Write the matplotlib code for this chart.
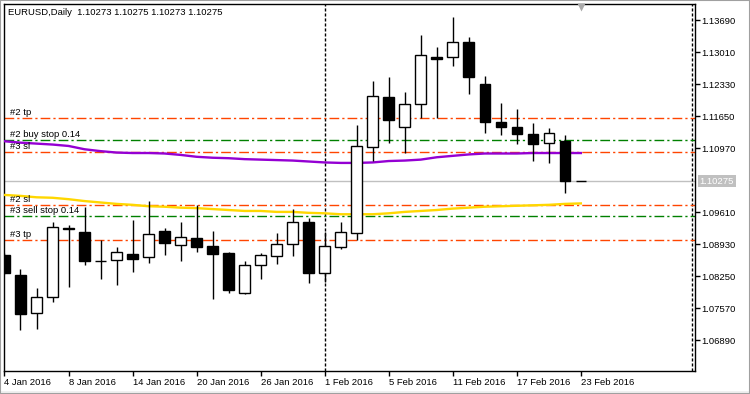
import matplotlib
matplotlib.use('Agg')
import matplotlib.pyplot as plt
import matplotlib.transforms as mtransforms
from matplotlib.patches import Rectangle

plt.rcParams['font.family'] = ['Liberation Sans', 'DejaVu Sans']

# trading days shown on the chart
days = ['4 Jan', '5 Jan', '6 Jan', '7 Jan', '8 Jan', '11 Jan', '12 Jan', '13 Jan', '14 Jan',
        '15 Jan', '18 Jan', '19 Jan', '20 Jan', '21 Jan', '22 Jan', '25 Jan', '26 Jan', '27 Jan',
        '28 Jan', '29 Jan', '1 Feb', '2 Feb', '3 Feb', '4 Feb', '5 Feb', '8 Feb', '9 Feb',
        '10 Feb', '11 Feb', '12 Feb', '15 Feb', '16 Feb', '17 Feb', '18 Feb', '19 Feb',
        '22 Feb', '23 Feb']

opens = [1.08704, 1.08279, 1.07467, 1.07806, 1.09258, 1.09186, 1.08570, 1.08591, 1.08718,
         1.08661, 1.09213, 1.08910, 1.09064, 1.08895, 1.08752, 1.07904, 1.08492, 1.08689,
         1.08931, 1.09398, 1.08316, 1.08880, 1.09164, 1.11002, 1.12050, 1.11413, 1.11901,
         1.12905, 1.12899, 1.13217, 1.12332, 1.11532, 1.11426, 1.11271, 1.11074, 1.11123,
         1.10273]
highs = [1.08740, 1.08400, 1.07997, 1.09410, 1.09340, 1.09716, 1.09022, 1.08873, 1.09446,
         1.09856, 1.09270, 1.09397, 1.09765, 1.09213, 1.08774, 1.08577, 1.08740, 1.09164,
         1.09674, 1.09496, 1.09186, 1.09398, 1.11462, 1.12396, 1.12474, 1.12156, 1.13372,
         1.13111, 1.13760, 1.13323, 1.12502, 1.11935, 1.11802, 1.11511, 1.11405, 1.11250,
         1.10275]
lows = [1.08300, 1.07119, 1.07140, 1.07713, 1.08032, 1.08485, 1.08201, 1.08061, 1.08350,
        1.08540, 1.08704, 1.08583, 1.08774, 1.07777, 1.07891, 1.07880, 1.08188, 1.08506,
        1.08693, 1.08104, 1.08131, 1.08825, 1.09022, 1.10705, 1.11087, 1.10862, 1.11604,
        1.11604, 1.12720, 1.12120, 1.11286, 1.11250, 1.11059, 1.10705, 1.10662, 1.10026,
        1.10273]
closes = [1.08328, 1.07458, 1.07806, 1.09291, 1.09270, 1.08583, 1.08575, 1.08761, 1.08625,
          1.09143, 1.08952, 1.09079, 1.08880, 1.08736, 1.07968, 1.08492, 1.08704, 1.08931,
          1.09398, 1.08316, 1.08895, 1.09186, 1.11017, 1.12077, 1.11568, 1.11901, 1.12947,
          1.12869, 1.13217, 1.12487, 1.11532, 1.11426, 1.11265, 1.11053, 1.11286, 1.10273,
          1.10275]

ma_purple = [1.1112, 1.1109, 1.1107, 1.1105, 1.1102, 1.1095, 1.1091, 1.1088, 1.1087, 1.1087,
             1.1086, 1.1083, 1.1079, 1.1077, 1.1076, 1.1074, 1.1073, 1.1072, 1.1071, 1.1069,
             1.1067, 1.1066, 1.1066, 1.1067, 1.1070, 1.1071, 1.1073, 1.1078, 1.1081, 1.1084,
             1.1086, 1.1086, 1.1086, 1.1087, 1.1087, 1.1087, 1.1087]
ma_yellow = [1.0998, 1.0996, 1.0993, 1.0992, 1.0989, 1.0985, 1.0982, 1.0979, 1.0977, 1.0974,
             1.0973, 1.0971, 1.0970, 1.0968, 1.0966, 1.0964, 1.0964, 1.0962, 1.0962, 1.0960,
             1.0959, 1.0957, 1.0957, 1.0957, 1.0959, 1.0962, 1.0964, 1.0966, 1.0969, 1.0971,
             1.0973, 1.0974, 1.0975, 1.0976, 1.0977, 1.0979, 1.0980]

level_names = ['#2 tp', '#2 buy stop 0.14', '#3 sl', '#2 sl', '#3 sell stop 0.14', '#3 tp']
level_prices = [1.11607, 1.11140, 1.10885, 1.09760, 1.09527, 1.09023]
level_colors = ['#FF4500', '#008000', '#FF4500', '#FF4500', '#008000', '#FF4500']

bid = 1.10275
yticks = [1.13690, 1.13010, 1.12330, 1.11650, 1.10970, 1.09610, 1.08930, 1.08250, 1.07570, 1.06890]
header = 'EURUSD,Daily  1.10273 1.10275 1.10273 1.10275'

W, H = 750, 394
fig = plt.figure(figsize=(7.5, 3.94), dpi=100)
fig.patch.set_facecolor('white')
ax = fig.add_axes([4 / W, 1 - 371 / H, 691 / W, 367 / H])
ax.set_facecolor('white')

n = len(days)
xs = list(range(n))
ax.set_xlim(-0.03, 43.13)
ax.set_ylim(1.06242, 1.14034)

fs = 6.8
dashdot = (0, (7, 2.2, 1.6, 2.2))

# order levels
for name, p, c in zip(level_names, level_prices, level_colors):
    ax.axhline(p, color=c, lw=1, linestyle=dashdot, zorder=2)
    off = mtransforms.offset_copy(ax.transData, fig=fig, x=0, y=3, units='dots')
    ax.text(0.34, p, name, transform=off, fontsize=fs, ha='left', va='baseline', zorder=6)

# bid line
ax.axhline(bid, color='#C0C0C0', lw=1, zorder=1)

# period separator and the right-side marker line
ax.axvline(days.index('1 Feb'), color='black', lw=1, linestyle=(0, (2.2, 1.4)), zorder=1)
ax.axvline(42.97, color='black', lw=1, linestyle=(0, (2.2, 1.4)), zorder=1)

# moving averages
ax.plot(xs, ma_purple, color='#9400D3', lw=1.7, zorder=3)
ax.plot(xs, ma_yellow, color='#FFD700', lw=1.7, zorder=3)

# candles
w = 0.66
ax.vlines(xs, lows, highs, color='black', lw=1, zorder=4)
for i in xs:
    o, c = opens[i], closes[i]
    fc = 'black' if c < o else 'white'
    ax.add_patch(Rectangle((i - w / 2, min(o, c)), w, abs(c - o), facecolor=fc,
                           edgecolor='black', lw=1, zorder=5))

# chart shift marker
ax.plot(36, 1 - 3 / 367, marker='v', ms=6, color='#A9A9A9', mec='none',
        transform=mtransforms.blended_transform_factory(ax.transData, ax.transAxes),
        clip_on=False, zorder=7)

ax.text(4 / 691, 1 - 8.3 / 367, header, transform=ax.transAxes, fontsize=fs,
        ha='left', va='center', zorder=7)

# axes
tick_idx = list(range(0, n, 4))
ax.set_xticks(tick_idx)
ax.set_xticklabels([days[i] + ' 2016' for i in tick_idx])
xoff = mtransforms.ScaledTranslation(1 / 100, 0, fig.dpi_scale_trans)
for lab in ax.get_xticklabels():
    lab.set_ha('left')
    lab.set_transform(lab.get_transform() + xoff)
ax.yaxis.tick_right()
ax.set_yticks(yticks)
ax.set_yticklabels(['%.5f' % v for v in yticks])
ax.tick_params(axis='x', length=3.6, width=1, pad=1.5, labelsize=fs, direction='out')
ax.tick_params(axis='y', length=3.6, width=1, pad=1.2, labelsize=fs, direction='out')
for s in ax.spines.values():
    s.set_color('black')
    s.set_linewidth(1)

ax.annotate('%.5f' % bid, xy=(1, bid), xycoords=('axes fraction', 'data'),
            xytext=(3.2, 0), textcoords='offset points', fontsize=fs, color='white',
            ha='left', va='center',
            bbox=dict(boxstyle='square,pad=0.2', facecolor='#C0C0C0', edgecolor='none'))

# window border
fig.patches.append(Rectangle((0, 0), 1, 3 / H, transform=fig.transFigure,
                             facecolor='#F0F0F0', edgecolor='none'))
fig.patches.append(Rectangle((0, 0), 1, 1, transform=fig.transFigure, fill=False,
                             edgecolor='#A0A0A0', lw=1.5))

fig.savefig('out.png', dpi=100)
